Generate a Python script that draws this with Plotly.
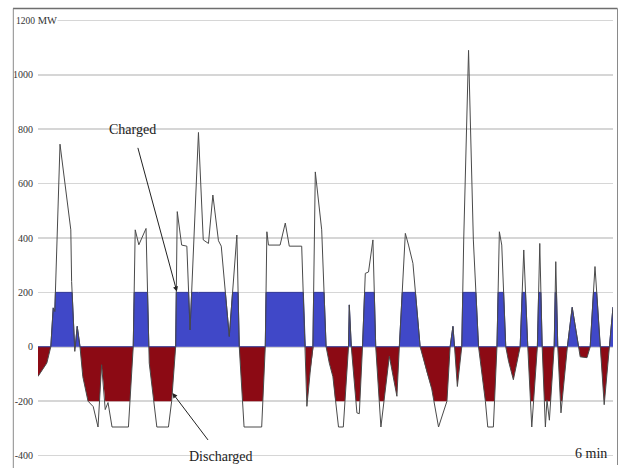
import plotly.graph_objects as go

# ---- data (time in minutes, power in MW) ----
time_min = [0, 22, 32, 38, 42, 55, 82, 84, 92, 98, 105, 112, 125, 138, 150, 159, 168, 175, 185, 226,
            238, 243, 252, 270, 278, 297, 326, 334, 344, 348, 359, 372, 380, 401, 413, 426, 437, 451, 458, 478,
            497, 503, 515, 559, 568, 572, 576, 605, 618, 628, 659, 668, 672, 680, 687, 693, 709, 720, 728, 737,
            743, 751, 763, 776, 778, 783, 797, 803, 811, 818, 826, 837, 844, 857, 878, 897, 903, 918, 926, 937,
            955, 972, 984, 1001, 1022, 1030, 1037, 1041, 1048, 1059, 1064, 1076, 1088, 1101, 1118, 1124, 1138, 1147, 1153, 1159,
            1169, 1176, 1188, 1205, 1214, 1224, 1234, 1248, 1254, 1260, 1268, 1272, 1278, 1290, 1294, 1299, 1307, 1323, 1335, 1351,
            1355, 1372, 1380, 1392, 1405, 1415, 1428, 1437]
power_mw = [-109, -60, 0, 143, 130, 745, 430, 240, -17, 75, 0, -110, -200, -220, -295, -66, -231, -205, -295, -295,
            0, 430, 375, 435, -60, -295, -295, -200, 0, 497, 374, 370, 62, 788, 393, 380, 558, 390, 370, 38,
            411, 0, -295, -295, 0, 423, 374, 374, 455, 370, 370, 0, -219, -96, 0, 643, 430, 0, -60, -110,
            -200, -295, -295, 0, 154, 0, -243, -246, 0, 270, 275, 393, 0, -295, -35, -182, 0, 417, 374, 307,
            0, -96, -155, -295, -200, 0, 75, 0, -146, 0, 400, 1090, 393, 0, -200, -295, -295, 0, 423, 374,
            0, -53, -121, 0, 356, 0, -295, 0, 380, 0, -295, -195, -270, 0, 313, 0, -243, 0, 145, 0,
            -37, -40, 0, 295, 0, -213, 0, 146]

charge_cap = 200      # MW
discharge_cap = -200  # MW

tick_vals = [-400, -200, 0, 200, 400, 600, 800, 1000, 1200]
tick_text = ["-400", "-200", "0", "200", "400", "600", "800", "1000", ""]

# ---- layout geometry (pixels) ----
W, H = 624, 468
ML, MR, MT, MB = 38, 11, 15, 7
PW, PH = W - ML - MR, H - MT - MB


def px_x(p):
    return (p - ML) / PW


def px_y(p):
    return (H - MB - p) / PH


def with_crossings(t, v, levels):
    ot, ov = [t[0]], [v[0]]
    for i in range(len(t) - 1):
        t0, v0, t1, v1 = t[i], v[i], t[i + 1], v[i + 1]
        cr = []
        for L in levels:
            if (v0 - L) * (v1 - L) < 0:
                f = (L - v0) / (v1 - v0)
                cr.append((t0 + f * (t1 - t0), L))
        cr.sort()
        for ct, cv in cr:
            ot.append(ct)
            ov.append(cv)
        ot.append(t1)
        ov.append(v1)
    return ot, ov


tt, vv = with_crossings(time_min, power_mw, [discharge_cap, 0, charge_cap])
blue_y = [min(max(x, 0), charge_cap) for x in vv]
red_y = [max(min(x, 0), discharge_cap) for x in vv]

fig = go.Figure()
fig.add_trace(go.Scatter(x=tt, y=red_y, mode="lines", fill="tozeroy",
                         line=dict(width=0, color="#8C0A14"), fillcolor="#8C0A14",
                         hoverinfo="skip", showlegend=False))
fig.add_trace(go.Scatter(x=tt, y=blue_y, mode="lines", fill="tozeroy",
                         line=dict(width=1, color="#2E3597"), fillcolor="#4048C8",
                         hoverinfo="skip", showlegend=False))
fig.add_trace(go.Scatter(x=time_min, y=power_mw, mode="lines",
                         line=dict(width=1, color="#4a4a4a"),
                         hoverinfo="skip", showlegend=False))

serif = "Liberation Serif, Times New Roman, serif"

fig.update_layout(
    width=W, height=H,
    margin=dict(l=ML, r=MR, t=MT, b=MB, pad=0),
    paper_bgcolor="white", plot_bgcolor="white",
    font=dict(family=serif, color="#222"),
    hovermode=False,
    xaxis=dict(range=[0, 1437], showgrid=False, zeroline=False, showticklabels=False,
               showline=False, ticks=""),
    yaxis=dict(range=[-420, 1220], tickvals=tick_vals, ticktext=tick_text,
               showgrid=True, gridcolor="#d6d6d6", gridwidth=1.5, zeroline=False,
               showline=False, ticks="", ticklabelstandoff=4,
               tickfont=dict(family=serif, size=10, color="#333")),
    shapes=[
        dict(type="line", xref="paper", yref="paper", x0=px_x(13), x1=px_x(617.5),
             y0=px_y(8.5), y1=px_y(8.5), line=dict(color="#6e6e6e", width=1.5)),
        dict(type="line", xref="paper", yref="paper", x0=px_x(13.3), x1=px_x(13.3),
             y0=px_y(8.5), y1=px_y(468), line=dict(color="#8a8a8a", width=1)),
        dict(type="line", xref="paper", yref="paper", x0=px_x(617.5), x1=px_x(617.5),
             y0=px_y(8.5), y1=px_y(465), line=dict(color="#8a8a8a", width=1)),
    ],
    annotations=[
        dict(xref="paper", yref="y", x=px_x(15), y=1200, xanchor="left", yanchor="middle",
             text="<span style='font-size:9.5px'>1200</span> MW", showarrow=False,
             font=dict(family=serif, size=10.5, color="#333"), bgcolor="white", borderpad=0),
        dict(xref="x", yref="y", x=347, y=203, axref="x", ayref="y", ax=237, ay=800,
             text="Charged", showarrow=True, arrowhead=2, arrowsize=1, arrowwidth=1,
             arrowcolor="#222", startstandoff=10, standoff=0,
             font=dict(family=serif, size=14, color="#222")),
        dict(xref="x", yref="y", x=336, y=-170, axref="x", ayref="y", ax=457, ay=-405,
             text="Discharged", showarrow=True, arrowhead=2, arrowsize=1, arrowwidth=1,
             arrowcolor="#222", startstandoff=10, standoff=0,
             font=dict(family=serif, size=14, color="#222")),
        dict(xref="paper", yref="paper", x=px_x(591), y=px_y(453), xanchor="center", yanchor="middle",
             text="6 min", showarrow=False, font=dict(family=serif, size=14, color="#222")),
    ],
)

fig.write_html("out.html", config={"displayModeBar": False, "staticPlot": True},
               post_script="document.body.style.margin='0';document.body.style.overflow='hidden';")
